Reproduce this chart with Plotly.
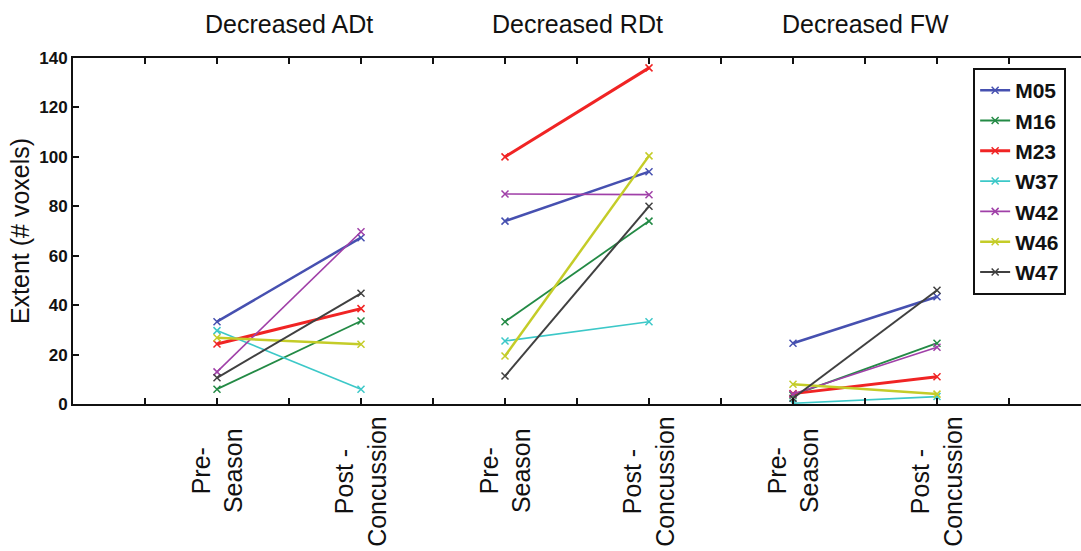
import plotly.graph_objects as go

# ---- data ----
subjects = ["M05", "M16", "M23", "W37", "W42", "W46", "W47"]
panels = ["Decreased ADt", "Decreased RDt", "Decreased FW"]
timepoints = ["Pre-<br>Season", "Post -<br>Concussion"]

# values per subject: [ADt pre, ADt post, RDt pre, RDt post, FW pre, FW post]
m05 = [33.3, 67.3, 74.0, 94.0, 24.6, 43.4]
m16 = [6.0, 33.6, 33.3, 74.0, 3.6, 24.6]
m23 = [24.3, 38.6, 100.0, 136.0, 4.2, 11.0]
w37 = [29.7, 6.0, 25.5, 33.3, 0.3, 3.0]
w42 = [13.0, 69.7, 85.0, 84.7, 4.0, 23.0]
w46 = [26.8, 24.2, 19.4, 100.4, 8.0, 4.0]
w47 = [10.6, 44.8, 11.3, 80.0, 2.3, 46.0]
series = [m05, m16, m23, w37, w42, w46, w47]

colors = ["#4650b0", "#238a45", "#f02424", "#3cc8c8", "#a040a8", "#c4cc28", "#404040"]
widths = [2.5, 1.8, 3.0, 1.6, 1.6, 2.5, 2.0]

# x positions of the time points (pre/post for each panel)
xpos = [1, 3, 5, 7, 9, 11]
title_x = [2, 6, 10]
yticks = [0, 20, 40, 60, 80, 100, 120, 140]

FONT = "Liberation Sans, Arial, Helvetica, sans-serif"

fig = go.Figure()
for name, vals, col, w in zip(subjects, series, colors, widths):
    xs, ys = [], []
    for p in range(3):
        xs += [xpos[2 * p], xpos[2 * p + 1], None]
        ys += [vals[2 * p], vals[2 * p + 1], None]
    fig.add_trace(go.Scatter(
        x=xs, y=ys, mode="lines+markers", name=name,
        line=dict(color=col, width=w),
        marker=dict(symbol="x-thin", size=7, line=dict(color=col, width=1.5), color=col),
        connectgaps=False, legendgroup=name,
    ))

annotations = []
for tx, t in zip(title_x, panels):
    annotations.append(dict(x=tx, xref="x", y=1.098, yref="paper", text=t,
                            showarrow=False, xanchor="center", yanchor="middle",
                            font=dict(size=25, color="#111", family=FONT)))
for i, xp in enumerate(xpos):
    lab = timepoints[i % 2]
    yc = -0.194 if i % 2 == 0 else -0.225
    annotations.append(dict(x=xp, xref="x", y=yc, yref="paper", text=lab,
                            showarrow=False, textangle=-90, align="center",
                            xanchor="center", yanchor="middle",
                            font=dict(size=25, color="#111", family=FONT)))

fig.update_layout(
    width=1081, height=551,
    margin=dict(l=73, r=0, t=58, b=147),
    paper_bgcolor="white", plot_bgcolor="white",
    font=dict(family=FONT, color="#111"),
    annotations=annotations,
    showlegend=True,
    legend=dict(x=0.893, y=0.971, xanchor="left", yanchor="top",
                bordercolor="#111", borderwidth=2, bgcolor="white",
                font=dict(size=21, family=FONT, color="#111", weight="bold"),
                tracegroupgap=0, itemwidth=30),
)
fig.update_xaxes(range=[-1, 13], tickvals=list(range(0, 13)), showticklabels=False,
                 ticks="inside", ticklen=6, tickwidth=2, tickcolor="#111",
                 showline=True, linecolor="#111", linewidth=2, mirror="ticks",
                 showgrid=False, zeroline=False)
fig.update_yaxes(range=[0, 140], tickvals=yticks,
                 ticks="inside", ticklen=6, tickwidth=2, tickcolor="#111",
                 showline=True, linecolor="#111", linewidth=2, mirror=False,
                 showgrid=False, zeroline=False,
                 tickfont=dict(size=17, family=FONT, color="#111", weight="bold"),
                 title=dict(text="Extent (# voxels)", standoff=2,
                            font=dict(size=25, family=FONT, color="#111")))

fig.write_html("out.html")
